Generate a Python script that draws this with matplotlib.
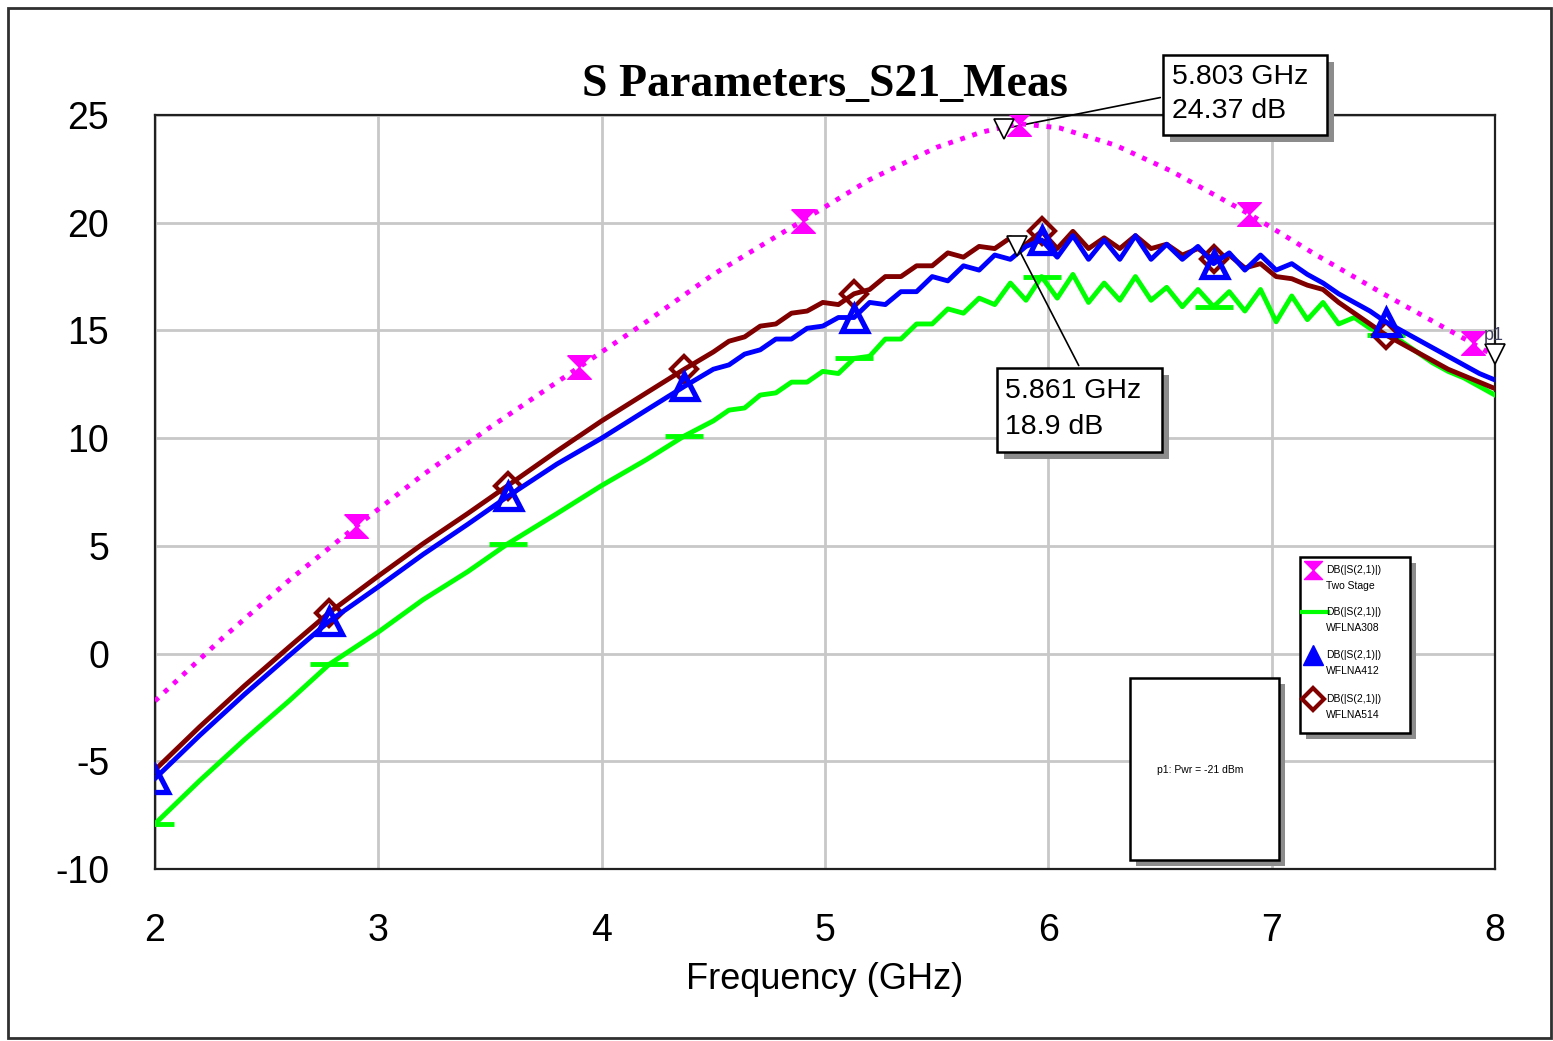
import numpy as np
import matplotlib
matplotlib.use("Agg")
import matplotlib.pyplot as plt
from matplotlib.path import Path
from matplotlib.patches import Rectangle
from matplotlib.lines import Line2D

W, H = 1553, 1041

# frequency grid (GHz) shared by the three LNA traces
freq = [2.0, 2.2, 2.4, 2.6, 2.78, 3.0, 3.2, 3.4, 3.58, 3.8, 4.0, 4.2, 4.37,
        4.50, 4.57, 4.64, 4.71, 4.78, 4.85, 4.92, 4.99, 5.06, 5.13,
        5.20, 5.27, 5.34, 5.41, 5.48, 5.55, 5.62, 5.69, 5.76, 5.83,
        5.90, 5.97, 6.04, 6.11, 6.18, 6.25, 6.32, 6.39, 6.46, 6.53,
        6.60, 6.67, 6.74, 6.81, 6.88, 6.95, 7.02, 7.09, 7.16, 7.23,
        7.30, 7.37, 7.44, 7.51, 7.58, 7.65, 7.72, 7.79, 7.86, 7.93, 8.00]

wflna308 = [-7.9, -5.9, -4.0, -2.2, -0.5, 1.0, 2.5, 3.8, 5.1, 6.5, 7.8, 9.0, 10.1,
            10.8, 11.3, 11.4, 12.0, 12.1, 12.6, 12.6, 13.1, 13.0, 13.7,
            13.8, 14.6, 14.6, 15.3, 15.3, 16.0, 15.8, 16.5, 16.2, 17.2,
            16.4, 17.5, 16.5, 17.6, 16.3, 17.2, 16.4, 17.5, 16.4, 17.0,
            16.1, 16.9, 16.1, 16.8, 15.9, 16.9, 15.4, 16.6, 15.5, 16.3,
            15.3, 15.6, 15.1, 14.8, 14.5, 14.0, 13.5, 13.1, 12.8, 12.4, 12.0]

wflna412 = [-5.8, -3.8, -1.9, -0.1, 1.5, 3.1, 4.6, 6.0, 7.3, 8.8, 10.0, 11.3, 12.4,
            13.2, 13.4, 13.9, 14.1, 14.6, 14.6, 15.1, 15.2, 15.6, 15.6,
            16.3, 16.2, 16.8, 16.8, 17.5, 17.3, 18.0, 17.8, 18.5, 18.3,
            18.9, 19.2, 18.4, 19.4, 18.3, 19.2, 18.3, 19.4, 18.3, 19.0,
            18.3, 18.9, 18.1, 18.6, 17.8, 18.5, 17.8, 18.1, 17.6, 17.2,
            16.7, 16.3, 15.9, 15.4, 15.0, 14.6, 14.2, 13.8, 13.4, 13.0, 12.7]

wflna514 = [-5.4, -3.4, -1.5, 0.3, 1.9, 3.6, 5.1, 6.5, 7.8, 9.4, 10.8, 12.1, 13.2,
            14.0, 14.5, 14.7, 15.2, 15.3, 15.8, 15.9, 16.3, 16.2, 16.7,
            16.9, 17.5, 17.5, 18.0, 18.0, 18.6, 18.4, 18.9, 18.8, 19.3,
            19.0, 19.6, 18.8, 19.6, 18.8, 19.3, 18.8, 19.4, 18.8, 19.0,
            18.5, 18.8, 18.3, 18.5, 17.9, 18.1, 17.5, 17.4, 17.1, 16.9,
            16.3, 15.8, 15.3, 14.8, 14.4, 14.0, 13.6, 13.2, 12.9, 12.6, 12.3]

# two stage trace
freq_ts = [2.0, 2.3, 2.6, 2.9, 3.2, 3.5, 3.9, 4.2, 4.5, 4.9, 5.2, 5.5, 5.7, 5.87,
           6.05, 6.3, 6.55, 6.9, 7.2, 7.5, 7.9, 8.0]
two_stage = [-2.2, 0.7, 3.4, 5.9, 8.3, 10.5, 13.3, 15.4, 17.6, 20.1, 22.0, 23.5, 24.2, 24.6,
             24.4, 23.6, 22.4, 20.4, 18.5, 16.7, 14.4, 13.8]

lna_marks = [0, 4, 8, 12, 22, 34, 45, 56]
ts_marks = [3, 6, 9, 13, 17, 20]

m1 = (5.803, 24.37)
m2 = (5.861, 18.9)
p1 = (8.0, 13.9)

PINK, GREEN, BLUE, BROWN = "#ff00ff", "#00ff00", "#0000ff", "#800000"

hourglass = Path([(-1, 1), (1, 1), (0, 0), (1, -1), (-1, -1), (0, 0), (-1, 1)])


def fp(px, py):
    return px / W, 1 - py / H


def fig_box(x0, y0, x1, y1, shadow=7):
    a, b = fp(x0 + shadow, y1 + shadow)
    c, d = fp(x1 + shadow, y0 + shadow)
    fig.add_artist(Rectangle((a, b), c - a, d - b, transform=fig.transFigure,
                             facecolor="#8c8c8c", edgecolor="none", zorder=20))
    a, b = fp(x0, y1)
    c, d = fp(x1, y0)
    fig.add_artist(Rectangle((a, b), c - a, d - b, transform=fig.transFigure,
                             facecolor="white", edgecolor="black", lw=1.8, zorder=21))


plt.rcParams['font.family'] = ['Liberation Sans', 'DejaVu Sans']
plt.rcParams['axes.unicode_minus'] = False

fig = plt.figure(figsize=(W / 100, H / 100), dpi=100)
ax = fig.add_axes([155 / W, 1 - 869 / H, (1495 - 155) / W, (869 - 115) / H])

ax.plot(freq_ts, two_stage, color=PINK, lw=3.5, ls=(0, (1, 1.6)),
        marker=hourglass, markevery=ts_marks, ms=17, mfc=PINK, mec=PINK, zorder=4)
ax.plot(freq, wflna308, color=GREEN, lw=3.5, marker="_", markevery=lna_marks,
        ms=28, mew=3.5, mec=GREEN, zorder=3)
ax.plot(freq, wflna514, color=BROWN, lw=3.5, marker="D", markevery=lna_marks[1:],
        ms=13, mew=3, mfc="none", mec=BROWN, zorder=3)
ax.plot(freq, wflna412, color=BLUE, lw=3.5, marker="^", markevery=lna_marks,
        ms=18, mew=3.8, mfc="none", mec=BLUE, zorder=3)

# marker triangles
for pt in (m1, m2, p1):
    ax.plot(*pt, marker="v", ms=14, mfc="white", mec="black", mew=1.2,
            clip_on=False, zorder=6, ls="none")
ax.text(p1[0] - 0.05, p1[1] + 0.45, "p1", fontsize=13, color="#404060",
        ha="left", va="bottom", zorder=6)

ax.set_xlim(2, 8)
ax.set_ylim(-10, 25)
ax.set_xticks([2, 3, 4, 5, 6, 7, 8])
ax.set_yticks([-10, -5, 0, 5, 10, 15, 20, 25])
ax.tick_params(length=0, labelsize=27, pad=33)
ax.tick_params(axis="x", pad=32)
ax.grid(True, color="#c8c8c8", lw=2)
ax.set_axisbelow(True)
for s in ax.spines.values():
    s.set_linewidth(1.6)
    s.set_color("#202020")
ax.set_xlabel("Frequency (GHz)", fontsize=26, labelpad=9)
ax.set_title("S Parameters_S21_Meas", fontsize=33, fontweight="bold",
             family="Liberation Serif", pad=14)

# outer frame
fig.add_artist(Rectangle(fp(8, 1038), (1551 - 8) / W, (1038 - 8) / H,
                         transform=fig.transFigure, fill=False,
                         edgecolor="#303030", lw=2))

# marker readouts
fig_box(1163, 55, 1327, 135)
fig.text(*fp(1172, 77), "5.803 GHz", fontsize=20.5, va="center", zorder=22)
fig.text(*fp(1172, 111), "24.37 dB", fontsize=20.5, va="center", zorder=22)
ax.annotate("", xy=m1, xytext=fp(1163, 97), textcoords="figure fraction",
            arrowprops=dict(arrowstyle="-", color="black", lw=1.2),
            annotation_clip=False)

fig_box(997, 368, 1162, 452)
fig.text(*fp(1005, 391), "5.861 GHz", fontsize=20.5, va="center", zorder=22)
fig.text(*fp(1005, 427), "18.9 dB", fontsize=20.5, va="center", zorder=22)
ax.annotate("", xy=m2, xytext=fp(1080, 368), textcoords="figure fraction",
            arrowprops=dict(arrowstyle="-", color="black", lw=1.2),
            annotation_clip=False)

# power box
fig_box(1130, 678, 1279, 860, shadow=6)
fig.text(*fp(1200, 770), "p1: Pwr = -21 dBm", fontsize=7.5, ha="center",
         va="center", zorder=22)

# legend
fig_box(1300, 557, 1410, 733, shadow=6)
legend_rows = [
    (570, "Two Stage", dict(marker=hourglass, ms=13, color=PINK, mfc=PINK, mec=PINK)),
    (612, "WFLNA308", dict(color=GREEN, lw=3)),
    (655, "WFLNA412", dict(marker="^", ms=14, color=BLUE, mfc=BLUE, mec=BLUE)),
    (699, "WFLNA514", dict(marker="D", ms=11, mew=3, color=BROWN, mfc="none", mec=BROWN)),
]
for py, name, style in legend_rows:
    if "marker" in style:
        x, y = fp(1313, py)
        fig.add_artist(Line2D([x], [y], transform=fig.transFigure, zorder=22, **style))
    else:
        x0, y0 = fp(1302, py)
        x1, _ = fp(1328, py)
        fig.add_artist(Line2D([x0, x1], [y0, y0], transform=fig.transFigure, zorder=22, **style))
    fig.text(*fp(1326, py), "DB(|S(2,1)|)", fontsize=7.5, va="center", zorder=23)
    fig.text(*fp(1326, py + 16), name, fontsize=7.5, va="center", zorder=23)

fig.savefig("out.png", dpi=100)
